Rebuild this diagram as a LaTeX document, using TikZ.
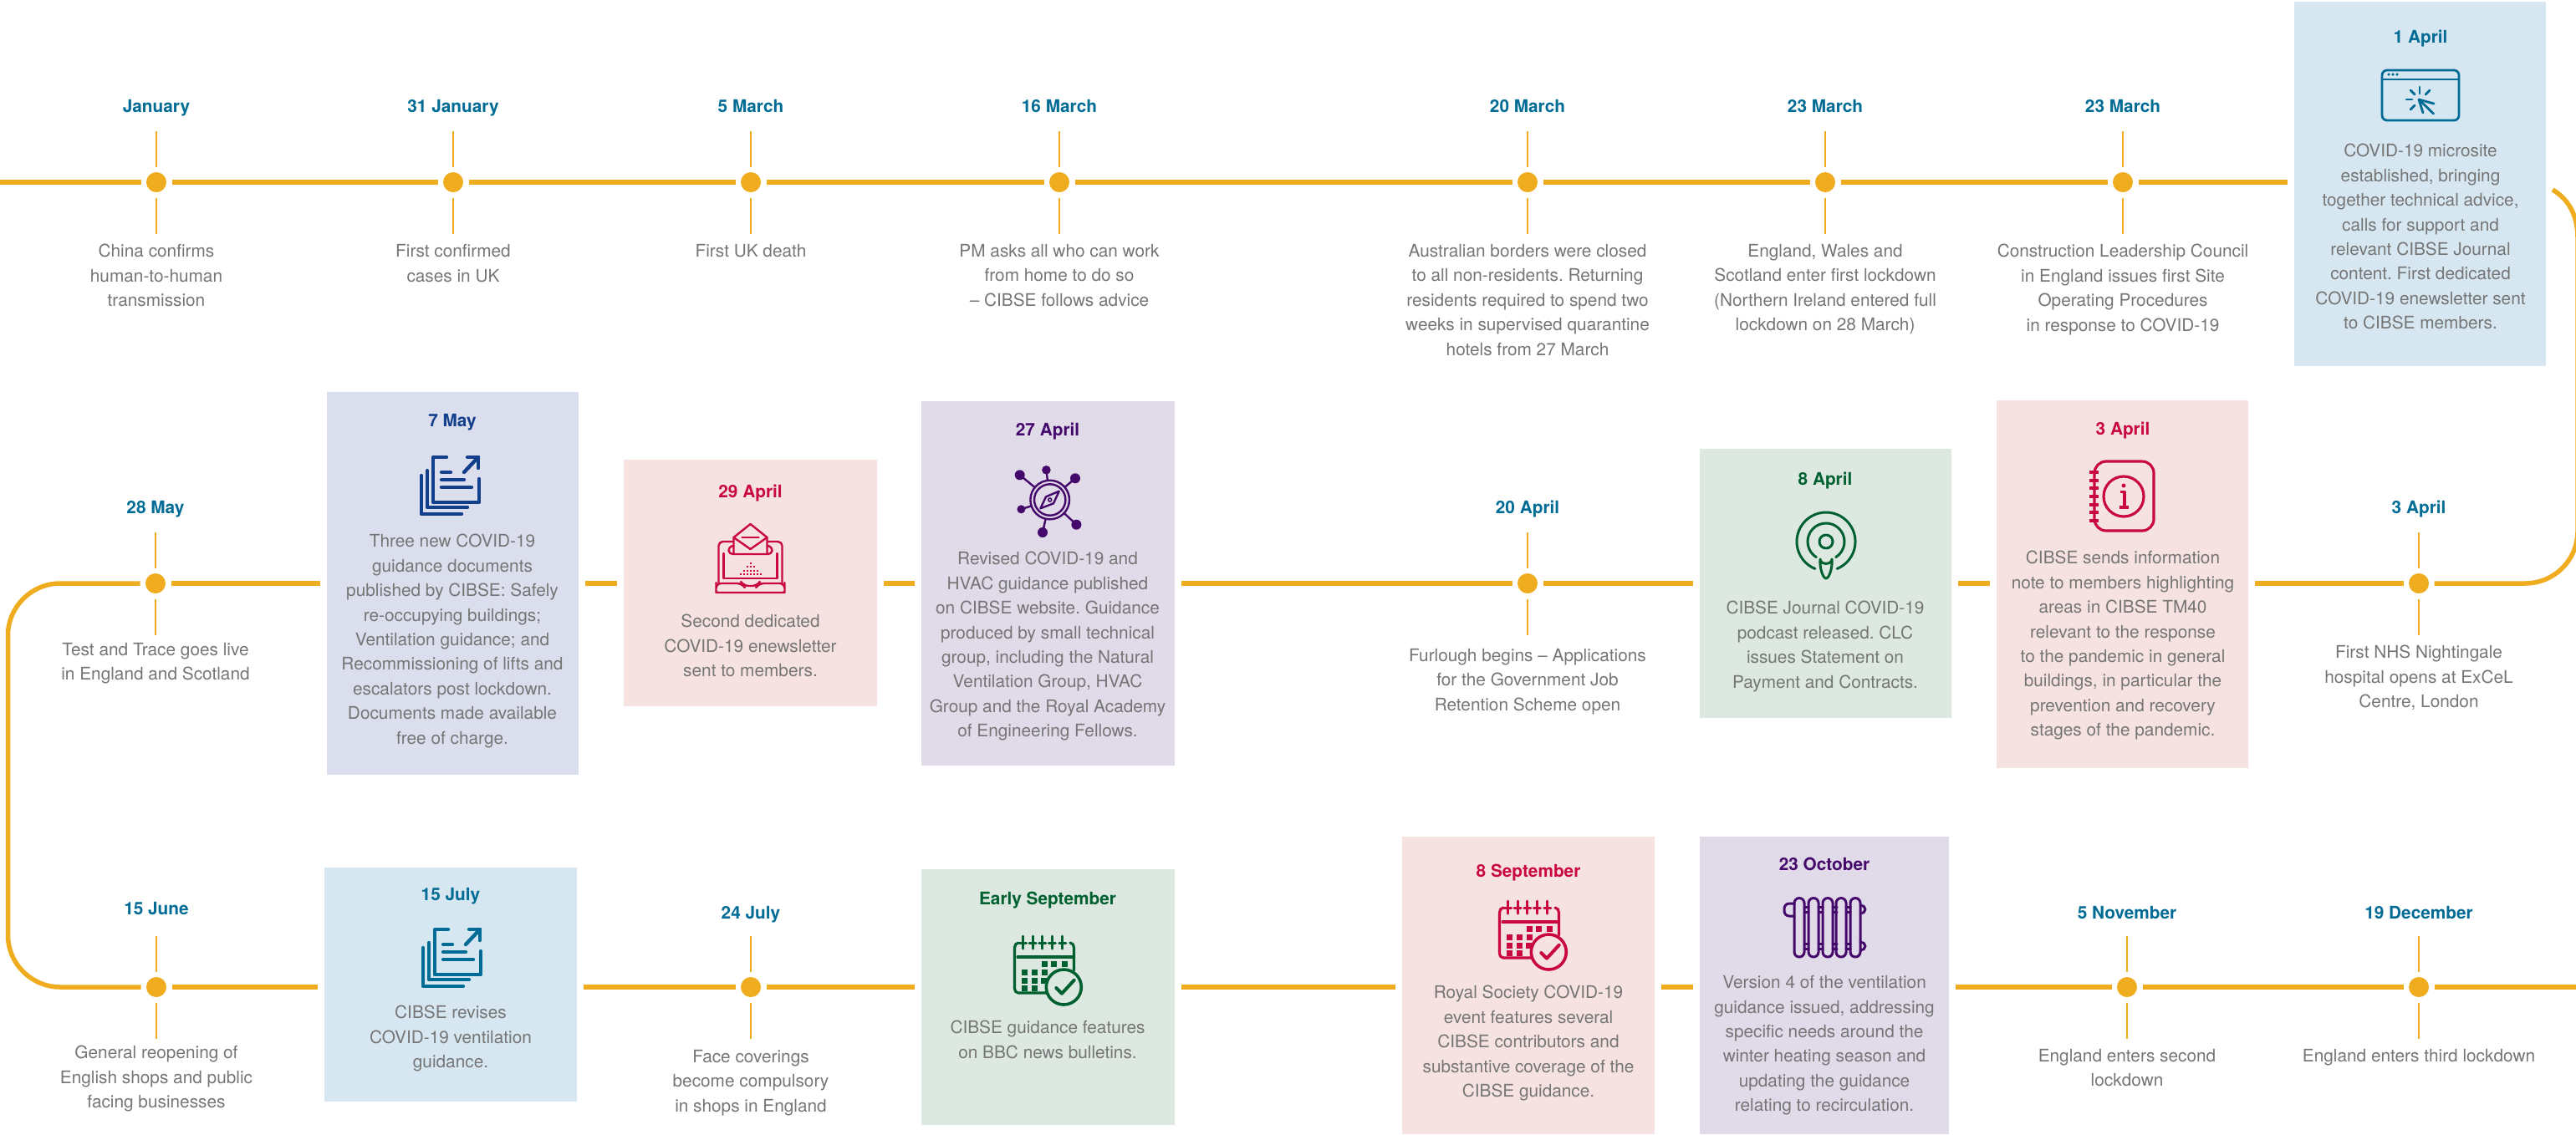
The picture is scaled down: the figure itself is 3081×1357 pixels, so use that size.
\documentclass[tikz,border=0pt]{standalone}
\usepackage{fontspec}
\setmainfont{TeX Gyre Heros}
\frenchspacing
\definecolor{gold}{HTML}{EFAC1F}
\definecolor{bodygrey}{HTML}{757575}
\definecolor{teal}{HTML}{006B94}
\definecolor{navy}{HTML}{123F8C}
\definecolor{crimson}{HTML}{C8083F}
\definecolor{purple}{HTML}{45096B}
\definecolor{forest}{HTML}{00602F}
\definecolor{bgblue}{HTML}{D7E7F1}
\definecolor{bglav}{HTML}{DBDEED}
\definecolor{bgpink}{HTML}{F6E3E1}
\definecolor{bgpurp}{HTML}{E0DAE9}
\definecolor{bggreen}{HTML}{DCE8E0}
\tikzset{
  tl/.style={draw=gold,line width=2.75pt},
  tick/.style={draw=gold,line width=1.3pt},
  dot/.style={circle,fill=gold,minimum size=12pt,inner sep=0pt,outer sep=3.25pt},
  evbox/.style={draw=none,inner sep=0pt,outer sep=4pt},
  datelab/.style={font=\fontsize{10.4}{13}\selectfont\bfseries,inner sep=0pt,anchor=center,text height=8pt,text depth=2pt,yshift=-0.6pt},
  bodytxt/.style={font=\fontsize{10.4}{14.7}\selectfont,text=bodygrey,align=center,inner sep=0pt,anchor=north,yshift=-1pt},
  ic/.style={line width=#1,line cap=round,line join=round},
  ic/.default=1.3pt
}
% \ebox{name}{x1}{y1}{x2}{y2}{colour}
\newcommand\ebox[6]{\node[evbox,fill=#6,minimum width={(#4-#2)*0.5pt},minimum height={(#5-#3)*0.5pt}] (#1) at ({(#2+#4)/2},{(#3+#5)/2}) {};}
% \mile{name}{x}{y}
\newcommand\mile[3]{\node[dot] (#1) at (#2,#3) {};
 \draw[tick] (#1.north) -- ++(0,-43);
 \draw[tick] (#1.south) -- ++(0,43);}
\newcommand\icondocs[3]{\begin{scope}[shift={(#1,#2)},ic=2.2pt,draw=#3]
 \draw (33,2) -- (17,2) -- (17,56) -- (72,56) -- (72,28);
 \draw (10,18) -- (10,62) -- (58,62);
 \draw (3,24) -- (3,70) -- (51,70);
 \draw (54,20) -- (71,2);
 \draw (58,2) -- (71,2) -- (71,15);
 \draw (27,20) -- (38,20);
 \draw (27,29) -- (54,29);
 \draw (27,38) -- (63,38);
\end{scope}}
\newcommand\iconcal[4]{\begin{scope}[shift={(#1,#2)},ic=1.6pt,draw=#3]
 \draw (5,26) -- (71,26);
 \draw (6,9) to[out=180,in=90] (1.5,15) -- (1.5,64) to[out=-90,in=180] (6,69) -- (42,69);
 \draw (68,9) to[out=0,in=90] (72.5,15) -- (72.5,42);
 \foreach \x in {11.6,23.2,34.8,46.4,58.9}{\draw[line width=1.5pt] (\x,1)--(\x,16); \draw[line width=1.5pt] (\x-4,9)--(\x+4,9);}
 \foreach \x/\y in {37.5/34.7,48.7/34.7,61/34.7,13/44.7,25/44.7,37.5/44.7,13/54,25/54,36/54,13/63.7,25/63.7}
  \fill[#3] (\x-3.5,\y-3.5) rectangle (\x+3.5,\y+3.5);
 \draw[ic=1.8pt,fill=#4] (60.3,62) circle (21);
 \draw[ic=2pt] (51.3,63) -- (58,69.7) -- (72.7,53.7);
\end{scope}}
\begin{document}
\begin{tikzpicture}[x=0.5pt,y=-0.5pt]
\useasboundingbox (0,0) rectangle (3081,1357);
% boxes
\ebox{bA}{2744}{2}{3045}{438}{bgblue}
\ebox{bB}{2388}{479}{2689}{919}{bgpink}
\ebox{bC}{2033}{537}{2334}{859}{bggreen}
\ebox{bD}{1102}{480}{1405}{916}{bgpurp}
\ebox{bE}{746}{550}{1049}{845}{bgpink}
\ebox{bF}{391}{469}{692}{927}{bglav}
\ebox{bG}{388}{1038}{690}{1318}{bgblue}
\ebox{bH}{1102}{1040}{1405}{1346}{bggreen}
\ebox{bI}{1677}{1001}{1979}{1357}{bgpink}
\ebox{bJ}{2033}{1001}{2331}{1357}{bgpurp}
% milestones
\mile{a1}{187}{218}\mile{a2}{542}{218}\mile{a3}{898}{218}\mile{a4}{1267}{218}
\mile{a5}{1827}{218}\mile{a6}{2183}{218}\mile{a7}{2539}{218}
\mile{b1}{2893}{698}\mile{b2}{1827}{698}\mile{b3}{186}{698}
\mile{c1}{187}{1181}\mile{c2}{898}{1181}\mile{c3}{2544}{1181}\mile{c4}{2893}{1181}
\coordinate (startL) at (0,218);
\coordinate (endR) at (3081,1181);
\coordinate (curveA) at (3053,227);
\coordinate (curveB) at (3083,285);
\coordinate (curveC) at (3083,635);
\coordinate (curveD) at (3020,698);
\coordinate (curveE) at (72,698);
\coordinate (curveF) at (9.5,760);
\coordinate (curveG) at (9.5,1119);
\coordinate (curveH) at (72,1181);
% row 1
\draw[tl] (startL) -- (a1);
\draw[tl] (a1) -- (a2);
\draw[tl] (a2) -- (a3);
\draw[tl] (a3) -- (a4);
\draw[tl] (a4) -- (a5);
\draw[tl] (a5) -- (a6);
\draw[tl] (a6) -- (a7);
\draw[tl] (a7) -- (bA.west |- a7);
% right turn
\draw[tl] (curveA) .. controls (3070,237) and (3083,255) .. (curveB) -- (curveC) .. controls (3083,670) and (3055,698) .. (curveD) -- (b1);
% row 2
\draw[tl] (b1) -- (bB.east |- b1);
\draw[tl] (bB.west |- b1) -- (bC.east |- b1);
\draw[tl] (bC.west |- b1) -- (b2);
\draw[tl] (b2) -- (bD.east |- b2);
\draw[tl] (bD.west |- b2) -- (bE.east |- b2);
\draw[tl] (bE.west |- b2) -- (bF.east |- b2);
\draw[tl] (bF.west |- b3) -- (b3);
% left turn
\draw[tl] (b3) -- (curveE) .. controls (38,698) and (9.5,726) .. (curveF) -- (curveG) .. controls (9.5,1153) and (38,1181) .. (curveH) -- (c1);
% row 3
\draw[tl] (c1) -- (bG.west |- c1);
\draw[tl] (bG.east |- c1) -- (c2);
\draw[tl] (c2) -- (bH.west |- c2);
\draw[tl] (bH.east |- c2) -- (bI.west |- c2);
\draw[tl] (bI.east |- c2) -- (bJ.west |- c2);
\draw[tl] (bJ.east |- c3) -- (c3);
\draw[tl] (c3) -- (c4);
\draw[tl] (c4) -- (endR);
% row 1 labels
\node[datelab,text=teal] (t1) at (187,127) {January};
\node[datelab,text=teal] (t2) at (542,127) {31 January};
\node[datelab,text=teal] (t3) at (898,127) {5 March};
\node[datelab,text=teal] (t4) at (1267,127) {16 March};
\node[datelab,text=teal] (t5) at (1827,127) {20 March};
\node[datelab,text=teal] (t6) at (2183,127) {23 March};
\node[datelab,text=teal] (t7) at (2539,127) {23 March};
\node[bodytxt] (d1) at (187,290) {China confirms\\human-to-human\\transmission};
\node[bodytxt] (d2) at (542,290) {First confirmed\\cases in UK};
\node[bodytxt] (d3) at (898,290) {First UK death};
\node[bodytxt] (d4) at (1267,290) {PM asks all who can work\\from home to do so\\– CIBSE follows advice};
\node[bodytxt] (d5) at (1827,290) {Australian borders were closed\\to all non-residents. Returning\\residents required to spend two\\weeks in supervised quarantine\\hotels from 27 March};
\node[bodytxt] (d6) at (2183,290) {England, Wales and\\Scotland enter first lockdown\\(Northern Ireland entered full\\lockdown on 28 March)};
\node[bodytxt] (d7) at (2539,290) {Construction Leadership Council\\in England issues first Site\\Operating Procedures\\in response to COVID-19};
% box A
\node[datelab,text=teal] (tA) at (2895,44) {1 April};
\node[bodytxt] (dA) at (2895,170) {COVID-19 microsite\\established, bringing\\together technical advice,\\calls for support and\\relevant CIBSE Journal\\content. First dedicated\\COVID-19 enewsletter sent\\to CIBSE members.};
% row 2 labels
\node[datelab,text=teal] (t8) at (2893,607) {3 April};
\node[bodytxt] (d8) at (2893,770) {First NHS Nightingale\\hospital opens at ExCeL\\Centre, London};
\node[datelab,text=crimson] (tB) at (2539,513) {3 April};
\node[bodytxt] (dB) at (2539,657) {CIBSE sends information\\note to members highlighting\\areas in CIBSE TM40\\relevant to the response\\to the pandemic in general\\buildings, in particular the\\prevention and recovery\\stages of the pandemic.};
\node[datelab,text=forest] (tC) at (2183,573) {8 April};
\node[bodytxt] (dC) at (2183,717) {CIBSE Journal COVID-19\\podcast released. CLC\\issues Statement on\\Payment and Contracts.};
\node[datelab,text=teal] (t9) at (1827,607) {20 April};
\node[bodytxt] (d9) at (1827,774) {Furlough begins – Applications\\for the Government Job\\Retention Scheme open};
\node[datelab,text=purple] (tD) at (1253,514) {27 April};
\node[bodytxt] (dD) at (1253,658) {Revised COVID-19 and\\HVAC guidance published\\on CIBSE website. Guidance\\produced by small technical\\group, including the Natural\\Ventilation Group, HVAC\\Group and the Royal Academy\\of Engineering Fellows.};
\node[datelab,text=crimson] (tE) at (897.5,588) {29 April};
\node[bodytxt] (dE) at (897.5,733) {Second dedicated\\COVID-19 enewsletter\\sent to members.};
\node[datelab,text=navy] (tF) at (541,503) {7 May};
\node[bodytxt] (dF) at (541,637) {Three new COVID-19\\guidance documents\\published by CIBSE: Safely\\re-occupying buildings;\\Ventilation guidance; and\\Recommissioning of lifts and\\escalators post lockdown.\\Documents made available\\free of charge.};
\node[datelab,text=teal] (t10) at (186,607) {28 May};
\node[bodytxt] (d10) at (186,767) {Test and Trace goes live\\in England and Scotland};
% row 3 labels
\node[datelab,text=teal] (t11) at (187,1087) {15 June};
\node[bodytxt] (d11) at (187,1249) {General reopening of\\English shops and public\\facing businesses};
\node[datelab,text=teal] (tG) at (539,1070) {15 July};
\node[bodytxt] (dG) at (539,1201) {CIBSE revises\\COVID-19 ventilation\\guidance.};
\node[datelab,text=teal] (t12) at (898,1092) {24 July};
\node[bodytxt] (d12) at (898,1254) {Face coverings\\become compulsory\\in shops in England};
\node[datelab,text=forest] (tH) at (1253,1075) {Early September};
\node[bodytxt] (dH) at (1253,1219) {CIBSE guidance features\\on BBC news bulletins.};
\node[datelab,text=crimson] (tI) at (1828,1042) {8 September};
\node[bodytxt] (dI) at (1828,1177) {Royal Society COVID-19\\event features several\\CIBSE contributors and\\substantive coverage of the\\CIBSE guidance.};
\node[datelab,text=purple] (tJ) at (2182,1034) {23 October};
\node[bodytxt] (dJ) at (2182,1165) {Version 4 of the ventilation\\guidance issued, addressing\\specific needs around the\\winter heating season and\\updating the guidance\\relating to recirculation.};
\node[datelab,text=teal] (t13) at (2544,1092) {5 November};
\node[bodytxt] (d13) at (2544,1253) {England enters second\\lockdown};
\node[datelab,text=teal] (t14) at (2893,1092) {19 December};
\node[bodytxt] (d14) at (2893,1253) {England enters third lockdown};
% ICONS
% browser
\begin{scope}[shift={(2895,114)},ic=1.4pt,draw=teal]
 \draw[rounded corners=3pt] (-46,-30) rectangle (46,30);
 \draw (-46,-19) -- (46,-19);
 \foreach \x in {-38,-33,-28}\fill[teal] (\x,-25) circle (1.8);
 \draw (-2,5) -- (15.5,22);
 \draw (16,10) -- (-2,5) -- (3,21);
 \draw (-1,-10) -- (-1,-2);
 \draw (6,-1) -- (11,-6);
 \draw (-7,-1) -- (-12,-6);
 \draw (-10,5) -- (-17,5);
 \draw (-7,12) -- (-12,17);
\end{scope}
\icondocs{501}{545}{navy}
\icondocs{503}{1110}{teal}
\iconcal{1792}{1077}{crimson}{bgpink}
\iconcal{1212}{1119}{forest}{bggreen}
% laptop-envelope
\begin{scope}[shift={(897.5,627)},ic=1.2pt,draw=crimson]
 \draw (-38,71) -- (-38,26) to[out=90,in=180] (-33,21) -- (-21,21);
 \draw (38,71) -- (38,26) to[out=90,in=0] (33,21) -- (21,21);
 \draw (-32,65) -- (-32,35) (32,65) -- (32,35) (-32,65) -- (32,65);
 \draw[rounded corners=3pt] (-41,71) -- (-10,71) -- (-8,74) -- (8,74) -- (10,71) -- (41,71) -- (41,76) to[out=-90,in=0] (35,82) -- (-35,82) to[out=180,in=-90] (-41,76) -- cycle;
 \draw (-20,16) -- (0,0) -- (20,16) -- (20,36) -- (-20,36) -- cycle;
 \draw (-20,16) -- (0,30) -- (20,16);
 \draw (-10,16) -- (10,16);
 \draw (-20,26) to[out=180,in=90] (-26,32) to[out=-90,in=180] (-20,36);
 \draw (20,26) to[out=0,in=90] (26,32) to[out=-90,in=0] (20,36);
 \foreach \x/\y in {0/47,-4/51,0/51,4/51,-8/56,-4/56,0/56,4/56,8/56,-12/60,-8/60,-4/60,0/60,4/60,8/60,12/60}
  \fill[crimson] (\x-1,\y-1) rectangle (\x+1,\y+1);
\end{scope}
% compass network
\begin{scope}[shift={(1255.7,598)},ic=1.2pt,draw=purple]
 \draw (0,0) circle (23.3);
 \draw (0,0) circle (18.7);
 \draw (11,-10.3) -- (-4.7,-3.7) -- (-11.3,10.3) -- (4.3,4.3) -- cycle;
 \draw[line width=0.8pt] (0,0) circle (2);
 \foreach \xe/\ye/\re in {-36/-29.7/6,-4.3/-35.7/5.3,30.3/-25.7/6,31.7/29.7/6,-8.7/39/6,-34.3/11.3/5}{
  \draw ({atan2(\ye,\xe)}:23.3) -- (\xe,\ye);
  \fill[purple] (\xe,\ye) circle (\re);}
\end{scope}
% podcast
\begin{scope}[shift={(2184,648)},ic=1.5pt,draw=forest]
 \draw (0,0) circle (8);
 \draw (122:22) arc[start angle=122,end angle=418,radius=22];
 \draw (112:35) arc[start angle=112,end angle=428,radius=35];
 \draw (-7,21) to[out=-90,in=-90,looseness=1.3] (7,21) .. controls (8,30) and (4,44) .. (0,44) .. controls (-4,44) and (-8,30) .. (-7,21);
\end{scope}
% notebook
\begin{scope}[shift={(2540,594)},ic=1.6pt,draw=crimson]
 \draw[rounded corners=7pt] (-35,-42) rectangle (36,41);
 \draw[line width=1.6pt] (0,0) circle (24);
 \foreach \y in {-29,-19,-10,0,10,19,29}\draw[line width=1.7pt,line cap=butt] (-41,\y) -- (-30,\y);
 \fill[crimson] (0,-13) circle (2.5);
 \draw[line cap=butt] (-4,-5.5) -- (1,-5.5) -- (1,13);
 \draw[line cap=butt] (-5,13) -- (6,13);
\end{scope}
% radiator
\begin{scope}[shift={(2132,1073)},ic=1.5pt,draw=purple]
 \foreach \x in {20,37,54,70,87}\draw[rounded corners=3pt] (\x-6,1.5) rectangle (\x+6,72);
 \foreach \x in {26,43,60,76}{\draw (\x,12) -- (\x+5,12) (\x,18) -- (\x+5,18) (\x,56) -- (\x+5,56) (\x,62) -- (\x+5,62);}
 \draw[rounded corners=3pt] (14,8) -- (2,8) -- (2,23) -- (14,23);
 \draw (93,10) to[out=0,in=90] (99,15) to[out=-90,in=0] (93,20);
 \draw (93,54) to[out=0,in=90] (99,59) to[out=-90,in=0] (93,64);
\end{scope}
\end{tikzpicture}
\end{document}
